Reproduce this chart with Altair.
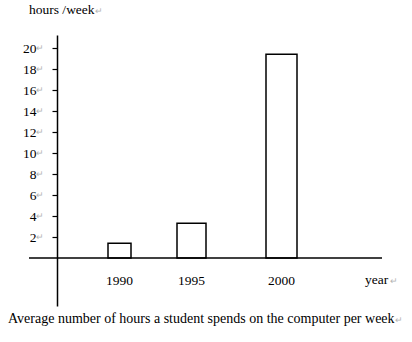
import altair as alt
import pandas as pd

# ---- data ----
years = [1990, 1995, 2000]
year_labels = ["1990", "1995", "2000"]
hours = [1.4, 3.3, 19.4]
tick_values = [2, 4, 6, 8, 10, 12, 14, 16, 18, 20]
title_text = "hours /week"
x_label = "year"
caption = "Average number of hours a student spends on the computer per week"

# ---- style ----
BAR_WIDTHS = [23, 29, 31]
FONT = "Liberation Serif"
FS = 13.5
MARK = "\u21b5"
MARK_COLOR = "#b4b4b4"
W, H = 325, 271

df = pd.DataFrame({"year": years, "hours": hours, "label": year_labels, "w": BAR_WIDTHS})
ticks_df = pd.DataFrame({"t": tick_values})

xscale = alt.Scale(domain=years, range=[62.5, 134.5, 224.5], zero=False, nice=False, padding=0)
yscale = alt.Scale(domain=[-4.57, 21.24], nice=False, zero=False)

y_axis = alt.Axis(
    values=tick_values,
    title=None,
    grid=False,
    domainColor="black",
    domainWidth=1.5,
    tickColor="black",
    tickWidth=1.2,
    tickSize=5,
    labelFont=FONT,
    labelFontSize=FS,
    labelColor="black",
    labelPadding=16,
)

bars = alt.Chart(df).mark_bar(fill="white", stroke="black", strokeWidth=1.5).encode(
    x=alt.X("year:Q", scale=xscale, axis=None),
    y=alt.Y("hours:Q", scale=yscale, axis=y_axis),
    y2=alt.datum(0),
    size=alt.Size("w:Q", scale=None, legend=None),
)

x_axis_line = alt.Chart(pd.DataFrame({"z": [0]})).mark_rule(color="black", strokeWidth=1.5).encode(
    y=alt.Y("z:Q", scale=yscale, axis=y_axis),
    x=alt.value(-28),
    x2=alt.value(W),
)

year_text = alt.Chart(df).mark_text(font=FONT, fontSize=FS, color="black", align="center", baseline="alphabetic").encode(
    x=alt.X("year:Q", scale=xscale, axis=None),
    y=alt.value(250),
    text="label:N",
)

tick_marks = alt.Chart(ticks_df).mark_text(text=MARK, align="left", baseline="middle", fontSize=9, color=MARK_COLOR).encode(
    x=alt.value(-21),
    y=alt.Y("t:Q", scale=yscale, axis=y_axis),
)


def label(txt, x, y, mark_x, fs):
    t = alt.Chart(pd.DataFrame({"s": [txt]})).mark_text(
        font=FONT, fontSize=fs, color="black", align="left", baseline="alphabetic"
    ).encode(text="s:N", x=alt.value(x), y=alt.value(y))
    m = alt.Chart(pd.DataFrame({"s": [MARK]})).mark_text(
        fontSize=9, color=MARK_COLOR, align="left", baseline="alphabetic"
    ).encode(text="s:N", x=alt.value(mark_x), y=alt.value(y))
    return t + m


title_layer = label(title_text, -28, -21, 38, FS)
year_layer = label(x_label, 308, 249, 333, FS)
caption_layer = label(caption, -49, 288, 338, 14.0)

chart = alt.layer(
    bars, x_axis_line, year_text, tick_marks, title_layer, year_layer, caption_layer
).properties(
    width=W,
    height=H,
    autosize=alt.AutoSizeParams(type="none"),
    padding={"left": 57, "top": 35, "right": 30, "bottom": 36},
    background="white",
).configure_view(stroke=None)

chart.save("out.html", embed_options={"renderer": "svg", "actions": False})
